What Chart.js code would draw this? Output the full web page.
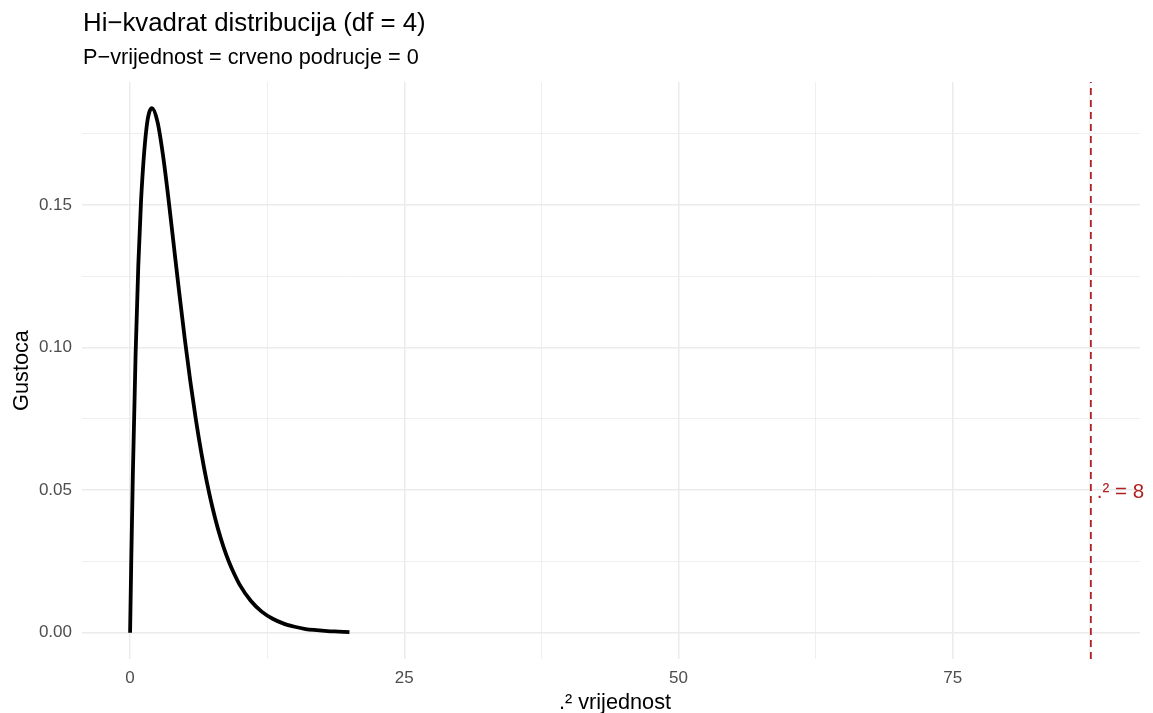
<!DOCTYPE html>
<html>
<head>
<meta charset="utf-8">
<script src="https://cdn.jsdelivr.net/npm/chart.js@4/dist/chart.umd.min.js"></script>
<style>
    html, body { margin: 0; padding: 0; background: #fff; }
    canvas { display: block; }
</style>
</head>
<body>
<canvas id="grafikon" width="1153" height="713"></canvas>
<script>
    // gustoca hi-kvadrat (df = 4), ocitano sa slike
    const xVrijednosti = [0, 0.1, 0.25, 0.5, 0.75, 1, 1.5, 2, 2.5, 3, 3.5, 4, 4.5, 5, 5.5, 6, 6.5, 7, 7.5, 8, 8.5, 9, 9.5, 10, 11, 12, 13, 14, 15, 16, 17, 18, 19, 20];
    const gustoca = [0, 0.0238, 0.0552, 0.0974, 0.1289, 0.1516, 0.1771, 0.1839, 0.1791, 0.1674, 0.1521, 0.1353, 0.1186, 0.1026, 0.0879, 0.0747, 0.0630, 0.0528, 0.0441, 0.0366, 0.0303, 0.0250, 0.0206, 0.0168, 0.0112, 0.0074, 0.0049, 0.0032, 0.0021, 0.0013, 0.0009, 0.0006, 0.0004, 0.0002];
    const kriticnaVrijednost = 87.6;
    const oznakaKriticne = '.² = 8';
    const xTicks = [0, 12.5, 25, 37.5, 50, 62.5, 75, 87.5];
    const yTicks = [0, 0.025, 0.05, 0.075, 0.1, 0.125, 0.15, 0.175];

    const xMin = -4.385, xMax = 92.08;
    const yMin = -0.0092, yMax = 0.1931;

    const FONT = '"Liberation Sans", Arial, sans-serif';

    const tekstovi = {
        id: 'tekstovi',
        afterDraw(chart) {
            const ctx = chart.ctx;
            const area = chart.chartArea;
            ctx.save();
            ctx.fillStyle = '#000';
            ctx.textBaseline = 'alphabetic';
            ctx.textAlign = 'left';
            ctx.font = '25.8px ' + FONT;
            ctx.fillText('Hi−kvadrat distribucija (df = 4)', area.left + 1, 31);
            ctx.font = '21.7px ' + FONT;
            ctx.fillText('P−vrijednost = crveno podrucje = 0', area.left + 1, 64);

            ctx.textAlign = 'center';
            ctx.fillText('.² vrijednost', (area.left + area.right) / 2 + 4, 709);
            ctx.save();
            ctx.translate(28, (area.top + area.bottom) / 2);
            ctx.rotate(-Math.PI / 2);
            ctx.fillText('Gustoca', 0, 0);
            ctx.restore();

            const x = chart.scales.x.getPixelForValue(kriticnaVrijednost);
            const y = chart.scales.y.getPixelForValue(0.05);
            ctx.fillStyle = '#B22222';
            ctx.textAlign = 'left';
            ctx.font = '20.5px ' + FONT;
            ctx.fillText(oznakaKriticne, x + 6, y + 8);
            ctx.restore();
        }
    };

    function glavna(vrijednost, korak) {
        return Math.abs(vrijednost / korak - Math.round(vrijednost / korak)) < 1e-6;
    }

    new Chart(document.getElementById('grafikon'), {
        type: 'line',
        data: {
            datasets: [{
                data: xVrijednosti.map(function (x, i) { return { x: x, y: gustoca[i] }; }),
                borderColor: '#000',
                borderWidth: 3.8,
                pointRadius: 0,
                cubicInterpolationMode: 'monotone',
                fill: false
            }, {
                data: [{ x: kriticnaVrijednost, y: yMin }, { x: kriticnaVrijednost, y: yMax }],
                borderColor: '#B22222',
                borderWidth: 1.8,
                borderDash: [7, 5],
                pointRadius: 0,
                fill: false
            }]
        },
        options: {
            responsive: false,
            animation: false,
            layout: { padding: { top: 82, right: 13, left: 0, bottom: 0 } },
            plugins: {
                legend: { display: false },
                tooltip: { enabled: false }
            },
            scales: {
                x: {
                    type: 'linear',
                    min: xMin,
                    max: xMax,
                    afterBuildTicks: function (scale) {
                        scale.ticks = xTicks.map(function (v) { return { value: v }; });
                    },
                    afterFit: function (scale) { scale.height = 54; },
                    border: { display: false },
                    grid: {
                        drawTicks: false,
                        color: '#EBEBEB',
                        lineWidth: function (c) { return glavna(c.tick.value, 25) ? 1.5 : 0.8; }
                    },
                    ticks: {
                        padding: 9,
                        color: '#4D4D4D',
                        font: { family: FONT, size: 17 },
                        maxRotation: 0,
                        autoSkip: false,
                        callback: function (v) { return glavna(v, 25) ? String(v) : ''; }
                    }
                },
                y: {
                    type: 'linear',
                    min: yMin,
                    max: yMax,
                    afterBuildTicks: function (scale) {
                        scale.ticks = yTicks.map(function (v) { return { value: v }; });
                    },
                    afterFit: function (scale) { scale.width = 82; },
                    border: { display: false },
                    grid: {
                        drawTicks: false,
                        color: '#EBEBEB',
                        lineWidth: function (c) { return glavna(c.tick.value, 0.05) ? 1.5 : 0.8; }
                    },
                    ticks: {
                        padding: 10,
                        color: '#4D4D4D',
                        font: { family: FONT, size: 17 },
                        autoSkip: false,
                        callback: function (v) { return glavna(v, 0.05) ? v.toFixed(2) : ''; }
                    }
                }
            }
        },
        plugins: [tekstovi]
    });
</script>
</body>
</html>
